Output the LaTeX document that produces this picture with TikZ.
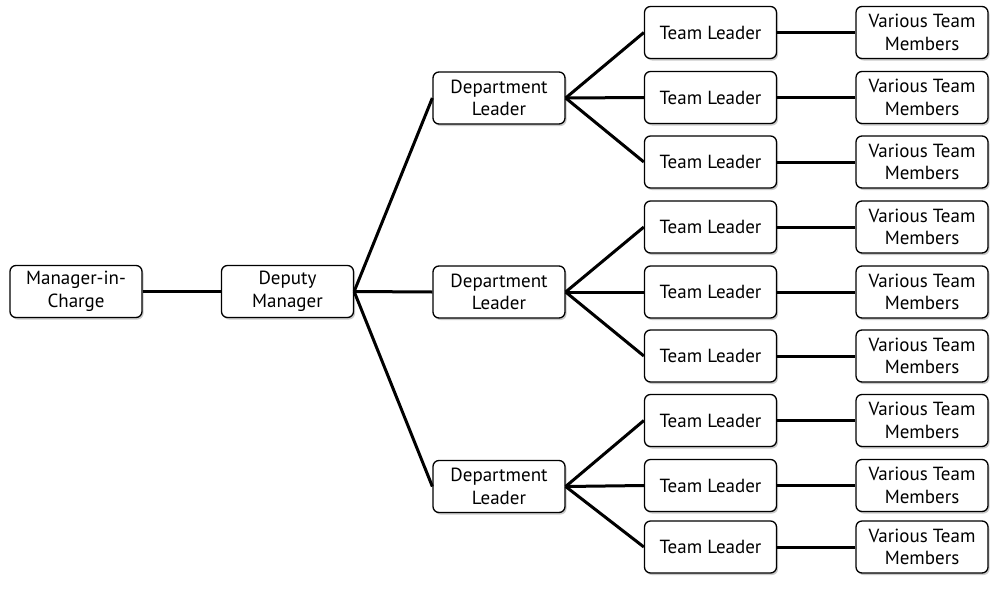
\documentclass[tikz,border=0pt]{standalone}
\usepackage{fontspec}
\setmainfont{PT Sans}
\usetikzlibrary{shadows}
\begin{document}
\begin{tikzpicture}[x=1pt,y=-1pt,
  box/.style={draw=black, line width=1.3pt, rounded corners=6pt, fill=white,
    minimum width=132pt, minimum height=52pt, inner sep=0pt, align=center,
    font=\fontsize{19}{22.5}\selectfont,
    drop shadow={shadow xshift=1.5pt, shadow yshift=-2pt, opacity=0.35, fill=black!60}},
  conn/.style={line width=3pt}]
\useasboundingbox (0,0) rectangle (1000,589);
\node[box] (mic) at (76,291.5) {Manager-in-\\Charge};
\node[box] (dep) at (287.5,291.5) {Deputy\\Manager};
\node[box] (d1) at (499,98) {Department\\Leader};
\node[box] (d2) at (499,292) {Department\\Leader};
\node[box] (d3) at (499,486.5) {Department\\Leader};
\foreach \i/\y in {1/32.5,2/97.5,3/162,4/227,5/292,6/356,7/420.5,8/485.5,9/547}{
  \node[box] (t\i) at (710.5,\y) {Team Leader};
  \node[box] (v\i) at (922,\y) {Various Team\\Members};
}
\draw[conn] (mic.east) -- (dep.west);
\foreach \d in {1,2,3}{\draw[conn] (dep.east) -- (d\d.west);}
\foreach \t in {1,2,3}{\draw[conn] (d1.east) -- (t\t.west);}
\foreach \t in {4,5,6}{\draw[conn] (d2.east) -- (t\t.west);}
\foreach \t in {7,8,9}{\draw[conn] (d3.east) -- (t\t.west);}
\foreach \t in {1,...,9}{\draw[conn] (t\t.east) -- (v\t.west);}
\end{tikzpicture}
\end{document}
